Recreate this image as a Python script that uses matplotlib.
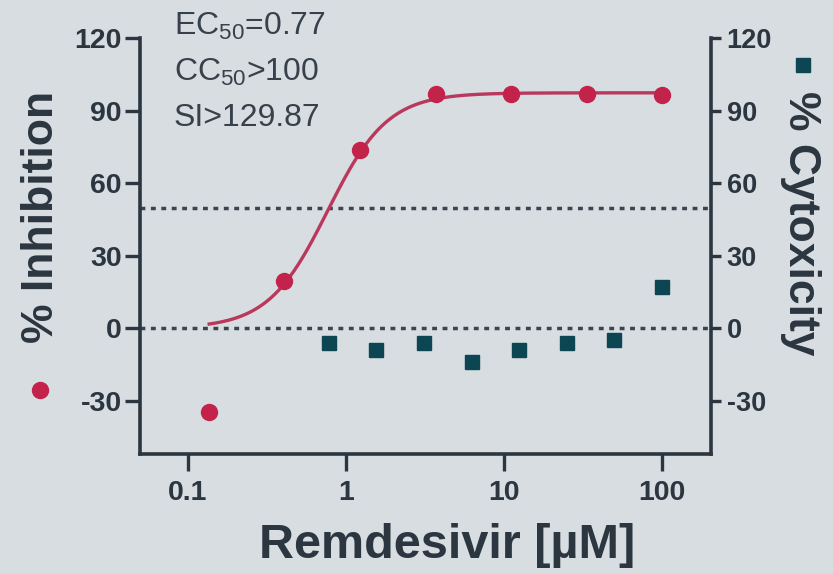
import matplotlib

matplotlib.use("Agg")

import matplotlib.pyplot as plt
import numpy as np
from matplotlib.lines import Line2D

# inhibition: 3-fold dilution series
inh_conc = [0.137, 0.41, 1.23, 3.7, 11.1, 33.3, 100]
inh_pct = [-34.5, 19.5, 74, 97, 97, 97, 96.5]

# cytotoxicity: 2-fold dilution series
cyt_conc = [0.78, 1.56, 3.125, 6.25, 12.5, 25, 50, 100]
cyt_pct = [-6, -9, -6, -14, -9, -6, -5, 17]

# fitted dose-response parameters
EC50 = 0.77
HILL = 2.3
TOP = 97.5
BOTTOM = 0.0

y_ticks = [-30, 0, 30, 60, 90, 120]
x_ticks = [0.1, 1, 10, 100]
x_ticklabels = ["0.1", "1", "10", "100"]

_BG = "#d8dde1"
_INK = "#2b3640"
_RED = "#c3234b"
_CURVE = "#b9385c"
_TEAL = "#0d4653"

plt.rcParams["font.family"] = ["Liberation Sans", "DejaVu Sans"]
plt.rcParams["mathtext.default"] = "regular"

fig = plt.figure(figsize=(8.33, 5.74), dpi=100)
fig.patch.set_facecolor(_BG)
ax = fig.add_axes([0.168, 0.209, 0.686, 0.724])
ax.set_facecolor("none")

ax.set_xscale("log")
ax.set_xlim(0.05, 205)
ax.set_ylim(-52, 120)

# reference lines at 50% and 0%
for yv in (50, 0):
    ax.axhline(yv, color="#3a4550", lw=2.5, ls=(0, (1.4, 1.6)), zorder=1)

# fitted curve over data range
xs = np.logspace(np.log10(min(inh_conc)), np.log10(max(inh_conc)), 300)
ys = BOTTOM + (TOP - BOTTOM) / (1 + (EC50 / xs) ** HILL)
ax.plot(xs, ys, color=_CURVE, lw=2.4, zorder=2)
ax.plot(inh_conc, inh_pct, "o", color=_RED, ms=11.5, zorder=3, clip_on=False)

ax2 = ax.twinx()
ax2.set_ylim(-52, 120)
ax2.plot(cyt_conc, cyt_pct, "s", color=_TEAL, ms=10, zorder=3, clip_on=False)

for a in (ax, ax2):
    a.spines["top"].set_visible(False)
    for side in ("left", "right", "bottom"):
        a.spines[side].set_linewidth(2.6)
        a.spines[side].set_color(_INK)

ax.spines["right"].set_visible(False)
ax2.spines["left"].set_visible(False)
ax2.spines["bottom"].set_visible(False)

ax.set_yticks(y_ticks)
ax.set_yticklabels([str(v) for v in y_ticks], fontsize=20.5, fontweight="bold", color=_INK)
ax.tick_params(axis="y", length=11, width=2.4, color=_INK, pad=2)
ax.set_xticks(x_ticks)
ax.set_xticklabels(x_ticklabels, fontsize=20.5, fontweight="bold", color=_INK)
ax.xaxis.set_minor_locator(matplotlib.ticker.NullLocator())
ax.tick_params(axis="x", length=12, width=2.4, color=_INK, pad=7)

ax2.set_yticks(y_ticks)
ax2.set_yticklabels([str(v) for v in y_ticks], fontsize=19.5, fontweight="bold", color=_INK)
ax2.tick_params(axis="y", length=7, width=2.4, color=_INK, pad=4)

# axis titles with their series symbols
fig.text(42 / 833, 1 - 217 / 574, "% Inhibition", rotation=90, ha="center", va="center",
         fontsize=32, fontweight="bold", color=_INK)
fig.add_artist(Line2D([40 / 833], [1 - 390 / 574], marker="o", color=_RED, ms=11.5,
                      transform=fig.transFigure))
fig.text(800 / 833, 1 - 223 / 574, "% Cytoxicity", rotation=270, ha="center", va="center",
         fontsize=32, fontweight="bold", color=_INK)
fig.add_artist(Line2D([803 / 833], [1 - 65 / 574], marker="s", color=_TEAL, ms=10,
                      transform=fig.transFigure))
fig.text(447 / 833, 1 - 545 / 574, "Remdesivir [µM]", ha="center", va="center",
         fontsize=35, fontweight="bold", color=_INK)

# fit summary
for i, line in enumerate(["EC$_{50}$=0.77", "CC$_{50}$>100", "SI>129.87"]):
    fig.text(174 / 833, 1 - (26 + 46 * i) / 574, line, ha="left", va="center",
             fontsize=23, color="#36414b")

fig.savefig("out.png", dpi=100, facecolor=_BG)
